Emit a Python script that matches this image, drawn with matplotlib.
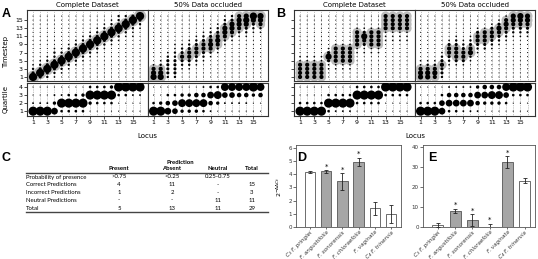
import numpy as np
import matplotlib.pyplot as plt

# ------------------------------------------------------------
# data: dot size level (0-9) per locus (one string each), per timestep / quartile
# ------------------------------------------------------------
loci = list(range(1, 17))

A_comp_t = [
    "9432111111111111", "4943211111111111", "3494321111111111", "2349433211111111",
    "1234943211111111", "1123494321111111", "1112349432111111", "1111234943211111",
    "1111123494321111", "1111112349432111", "1111111234943211", "1111111123494321",
    "1111111112349433", "1111111111234943", "1111111111223494", "1111111111112349",
]
A_occ_t = [
    "7652111111111111", "7653211111111111", "3444432111111111", "3444433221111111",
    "1123454321111111", "1123455432111111", "1112345543211111", "1111234554321111",
    "1111123565432111", "1111112356543211", "1111111123566432", "1111111112356643",
    "1111111111235665", "1111111111234676", "1111111111123468", "1111111111123567",
]
B_comp_t = [
    "5555221111111111", "5555221111111111", "5555221111111111", "5555221111111111",
    "1122474211111111", "1122555521111111", "1122555521111111", "1122555521111111",
    "1111112255552111", "1111112245742111", "1111112255552111", "1111112255552111",
    "1111111112225555", "1111111112225555", "1111111112225555", "1111111112225555",
]
B_occ_t = [
    "6652211111111111", "6653211111111111", "5653211111111111", "3445432111111111",
    "1112345542111111", "1112455543211111", "1112455432111111", "1111236543211111",
    "1111112345542111", "1111111345552111", "1111111234554211", "1111111123456421",
    "1111111112345652", "1111111111234566", "1111111111234567", "1111111111234566",
]
A_comp_q = ["9211", "9211", "9211", "7421", "3921", "3931", "3931", "3941",
            "1493", "1393", "1393", "1394", "1139", "1139", "1129", "1129"]
A_occ_q = ["9311", "9411", "7531", "6631", "4841", "4841", "4851", "3852",
           "2573", "1483", "1268", "1268", "1258", "1258", "1149", "1158"]
B_comp_q = ["9311", "9311", "9311", "9311", "3931", "2931", "2931", "2931",
            "1393", "1393", "1393", "1393", "1139", "1139", "1139", "1139"]
B_occ_q = ["9311", "9311", "9311", "7631", "3752", "3752", "2752", "2752",
           "2574", "1475", "1485", "1485", "1368", "1139", "1139", "1139"]

# table C
c_cols = ["Present", "Absent", "Neutral", "Total"]
c_rows = ["Probability of presence", "Correct Predictions", "Incorrect Predictions",
          "Neutral Predictions", "Total"]
c_cells = [[">0.75", "<0.25", "0.25-0.75", ""],
           ["4", "11", "-", "15"],
           ["1", "2", "-", "3"],
           ["-", "-", "11", "11"],
           ["5", "13", "11", "29"]]

# bar panels D / E
species = ["C\u2083 F. pringlei", "F. angustifolia", "F. sonorensis",
           "F. chloraefolia", "F. vaginata", "C\u2084 F. trinervia"]
d_mean = [4.15, 4.2, 3.45, 4.95, 1.4, 1.0]
d_err = [0.07, 0.1, 0.65, 0.3, 0.5, 0.68]
d_sig = [0, 1, 1, 1, 0, 0]
e_mean = [1.0, 8.0, 3.5, 0.2, 32.5, 23.3]
e_err = [1.0, 1.2, 3.0, 1.3, 3.0, 1.2]
e_sig = [0, 1, 1, 1, 1, 0]

# ------------------------------------------------------------
W, H = 538, 259
fig = plt.figure(figsize=(W / 100, H / 100), dpi=100)


def box(l, t, r, b):
    return fig.add_axes([l / W, 1 - b / H, (r - l) / W, (b - t) / H])


DOT = [0, 0.6, 1.5, 3, 5, 9, 14, 20, 27, 36]


def dots(ax, rows, halo=True, scale=1.0):
    xs, ys, ss = [], [], []
    for i, row in enumerate(rows):
        for j, ch in enumerate(row):
            lv = int(ch)
            if lv:
                xs.append(loci[i]); ys.append(j + 1); ss.append(DOT[lv] * scale)
    xs, ys, ss = np.array(xs), np.array(ys), np.array(ss)
    if halo:
        m = ss >= DOT[5]
        ax.scatter(xs[m], ys[m], s=ss[m] * 1.4 + 32, color="#bdbdbd", lw=0, zorder=2)
    ax.scatter(xs, ys, s=ss, color="black", lw=0, zorder=3)
    for x in loci:
        ax.axvline(x, color="#8a8a8a", lw=0.5, ls=(0, (1, 1.6)), zorder=1)
    ax.set_xlim(0.15, 17.05)
    for sp in ax.spines.values():
        sp.set_color("#333333"); sp.set_linewidth(0.8)
    ax.tick_params(labelsize=4.5, length=2, width=0.5, pad=1)


odd = list(range(1, 17, 2))
for x0, labels, top_data, q_data in [(27, True, (A_comp_t, A_occ_t), (A_comp_q, A_occ_q)),
                                     (294, False, (B_comp_t, B_occ_t), (B_comp_q, B_occ_q))]:
    for k, title in enumerate(["Complete Dataset", "50% Data occluded"]):
        l = x0 + 120.5 * k
        r = l + 120.5
        at = box(l, 10, r, 81)
        dots(at, top_data[k])
        at.set_ylim(0, 17.5)
        at.set_xticks([])
        at.set_title(title, fontsize=5, pad=2)
        aq = box(l, 83, r, 116)
        dots(aq, q_data[k], halo=False, scale=1.2)
        aq.set_ylim(0.4, 4.5)
        aq.set_xticks(odd)
        if k == 0:
            at.set_yticks(odd)
            aq.set_yticks([1, 2, 3, 4])
            if not labels:
                at.set_yticklabels([]); aq.set_yticklabels([])
        else:
            at.set_yticks([]); aq.set_yticks([])


def bars(ax, mean, err, sig, ymax, ticks, off):
    x = np.arange(len(mean))
    colors = ["#a6a6a6" if s else "white" for s in sig]
    ax.bar(x, mean, width=0.64, color=colors, edgecolor="#555555", lw=0.6, zorder=2)
    ax.errorbar(x, mean, yerr=err, fmt="none", ecolor="#222222", elinewidth=0.6,
                capsize=1.5, capthick=0.6, zorder=3)
    for xi, m, e, s in zip(x, mean, err, sig):
        if s:
            ax.text(xi, m + e + off, "*", ha="center", va="bottom", fontsize=5)
    ax.set_xlim(-0.85, 5.6)
    ax.set_ylim(0, ymax)
    ax.set_yticks(ticks)
    ax.set_xticks(x)
    ax.set_xticklabels(species, rotation=45, ha="right", rotation_mode="anchor",
                       fontsize=2.4, style="italic")
    ax.tick_params(labelsize=4, length=2, width=0.5, pad=1, colors="#333333")
    ax.tick_params(axis="x", length=1.5, pad=0.5)
    for sp in ax.spines.values():
        sp.set_color("#555555"); sp.set_linewidth(0.6)


ad = box(296, 145, 401, 227)
bars(ad, d_mean, d_err, d_sig, 6.2, range(0, 7), 0.03)
ae = box(423, 145, 535, 227)
bars(ae, e_mean, e_err, e_sig, 41.2, range(0, 41, 10), 0.4)

# ------------------------------------------------------------
# overlay for letters, labels and table C
ov = fig.add_axes([0, 0, 1, 1], zorder=10)
ov.set_xlim(0, W); ov.set_ylim(H, 0); ov.axis("off")

lf = dict(fontsize=9, fontweight="bold", family="Liberation Sans", ha="center", va="center")
ov.text(6, 14, "A", **lf)
ov.text(281, 14, "B", **lf)
ov.text(6, 158, "C", **lf)
ov.text(302, 158, "D", **lf)
ov.text(432, 158, "E", **lf)

ov.text(6, 52, "Timestep", rotation=90, fontsize=5, ha="center", va="center")
ov.text(6, 99, "Quartile", rotation=90, fontsize=5, ha="center", va="center")
ov.text(147, 136, "Locus", fontsize=5, ha="center", va="center")
ov.text(415, 136, "Locus", fontsize=5, ha="center", va="center")
ov.text(279, 187, r"$2^{-\Delta\Delta Ct}$", rotation=90, fontsize=4.5,
        ha="center", va="center")

tf = dict(fontsize=4.3, family="Lato", va="center")
col_x = [119, 172, 218, 252]
ov.text(180, 162, "Prediction", fontweight="bold", ha="center", **tf)
for cx, c in zip(col_x, c_cols):
    ov.text(cx, 169, c, fontweight="bold", ha="center", **tf)
ov.plot([26, 268], [173, 173], color="#444444", lw=1.0)
row_y = [177, 185, 193, 200, 208]
for ry, name, cells in zip(row_y, c_rows, c_cells):
    ov.text(26, ry, name, ha="left", **tf)
    for cx, v in zip(col_x, cells):
        ov.text(cx, ry, v, ha="center", **tf)
ov.plot([26, 268], [211.5, 211.5], color="#444444", lw=1.0)

fig.savefig("out.png", dpi=100)
